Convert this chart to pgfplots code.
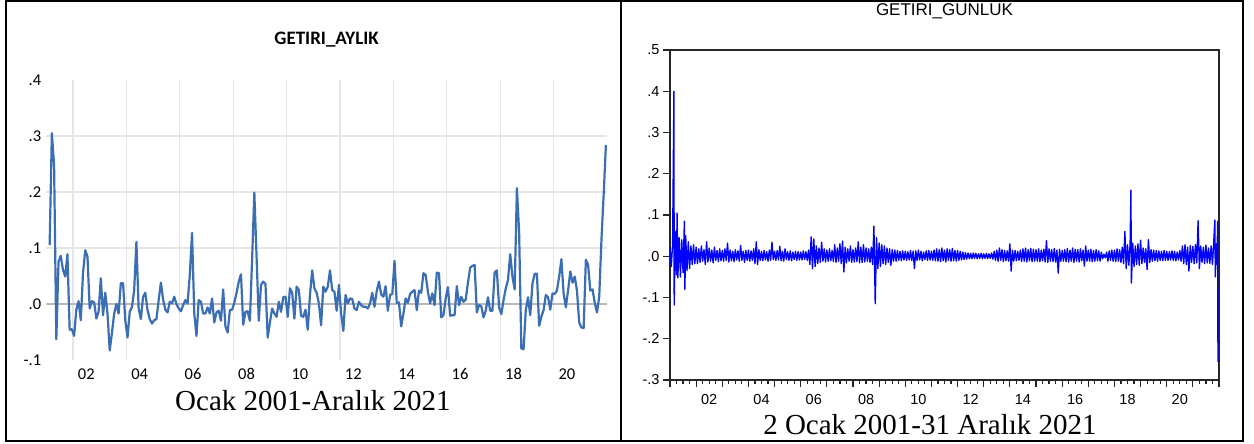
\documentclass[border=0pt]{standalone}
\usepackage{fontspec}
\setmainfont{Liberation Serif}
\newfontfamily\carlito{Carlito}
\newfontfamily\arial{Liberation Sans}
\usepackage{pgfplots}
\pgfplotsset{compat=1.18}
\definecolor{aylik}{HTML}{3C6EB4}

\begin{document}
\begin{tikzpicture}
\path[use as bounding box] (0pt,0pt) rectangle (1254pt,444pt);
\draw[line width=2pt] (5.5pt,2.5pt) rectangle (1242.5pt,443pt);
\draw[line width=2pt] (621.3pt,2.5pt) -- (621.3pt,443pt);

% left: monthly returns (x = month index, first point Feb 2001)
\begin{axis}[
  at={(46.3pt,84pt)}, anchor=south west,
  width=560.7pt, height=280pt, scale only axis,
  xmin=-1.5, xmax=250.5, ymin=-0.1, ymax=0.4,
  axis line style={draw=none},
  major tick length=0pt,
  xtick={10.5,34.5,58.5,82.5,106.5,130.5,154.5,178.5,202.5,226.5},
  xticklabels={02,04,06,08,10,12,14,16,18,20},
  ytick={-0.1,0,0.1,0.2,0.3,0.4},
  yticklabels={-.1,.0,.1,.2,.3,.4},
  x tick label style={font=\carlito\fontsize{16.5}{18}\selectfont, xshift=13.3pt, yshift=-5pt},
  y tick label style={font=\carlito\fontsize{16.5}{18}\selectfont, xshift=-1.5pt},
  xmajorgrids=true,
  major grid style={draw=gray!20, line width=1.3pt},
  extra y ticks={0.1,0.2,0.3},
  extra y tick labels={},
  extra y tick style={grid=major},
]
\draw[gray!55, line width=1.5pt] (axis cs:-1.5,0) -- (axis cs:250.5,0);
\addplot[aylik, line width=2.2pt, line join=round] coordinates {
(0,0.105)(1,0.305)(2,0.248)(3,-0.063)(4,0.076)(5,0.086)(6,0.061)(7,0.049)(8,0.089)(9,-0.046)
(10,-0.045)(11,-0.057)(12,-0.010)(13,0.005)(14,-0.029)(15,0.055)(16,0.096)(17,0.085)(18,-0.008)(19,0.005)
(20,0.003)(21,-0.026)(22,-0.014)(23,0.046)(24,-0.020)(25,0.020)(26,-0.017)(27,-0.083)(28,-0.052)(29,-0.017)
(30,0.000)(31,-0.017)(32,0.037)(33,0.037)(34,-0.029)(35,-0.060)(36,-0.014)(37,-0.005)(38,0.025)(39,0.111)
(40,-0.008)(41,-0.027)(42,0.013)(43,0.020)(44,-0.011)(45,-0.027)(46,-0.035)(47,-0.029)(48,-0.027)(49,0.007)
(50,0.038)(51,0.008)(52,-0.010)(53,-0.015)(54,0.004)(55,0.001)(56,0.013)(57,0.000)(58,-0.008)(59,-0.013)
(60,-0.002)(61,0.007)
(62,0.001)(63,0.052)(64,0.127)(65,-0.017)(66,-0.057)(67,0.007)(68,0.004)(69,-0.017)(70,-0.017)(71,-0.006)
(72,-0.017)(73,0.010)(74,-0.033)(75,-0.015)(76,-0.012)(77,-0.030)(78,0.026)(79,-0.040)(80,-0.051)(81,-0.011)
(82,-0.010)(83,0.002)(84,0.020)(85,0.040)(86,0.053)(87,-0.037)(88,-0.014)(89,-0.013)(90,-0.030)(91,0.080)
(92,0.199)(93,0.085)(94,-0.030)(95,0.034)(96,0.040)(97,0.036)(98,-0.060)(99,-0.033)(100,-0.008)(101,-0.017)
(102,-0.023)(103,0.004)(104,-0.014)(105,0.012)(106,0.013)(107,-0.023)(108,0.028)(109,0.020)(110,-0.026)(111,0.031)
(112,0.025)(113,-0.021)(114,-0.023)(115,-0.010)(116,-0.046)(117,0.016)(118,0.060)(119,0.028)(120,0.020)(121,0.001)
(122,-0.038)(123,0.031)(124,0.022)
(125,0.031)(126,0.060)(127,0.025)(128,0.022)(129,-0.012)(130,0.034)(131,-0.017)(132,-0.048)(133,0.016)(134,0.001)
(135,0.010)(136,0.009)(137,-0.008)(138,-0.011)(139,0.004)(140,-0.002)(141,-0.005)(142,-0.005)(143,-0.008)(144,0.001)
(145,0.020)(146,-0.005)(147,0.023)(148,0.040)(149,0.017)(150,0.013)(151,0.032)(152,-0.012)(153,0.016)(154,0.018)
(155,0.077)(156,0.002)(157,0.003)(158,-0.040)(159,-0.017)(160,0.010)(161,0.002)(162,0.018)(163,0.022)(164,0.025)
(165,-0.011)(166,0.024)(167,0.020)(168,0.055)(169,0.052)(170,0.022)(171,0.001)(172,0.019)(173,-0.002)(174,0.056)
(175,0.055)(176,-0.024)(177,-0.020)(178,0.010)(179,0.030)(180,-0.021)(181,-0.020)(182,-0.020)(183,0.032)(184,-0.002)
(185,0.013)(186,0.004)(187,0.008)
(188,0.038)(189,0.065)(190,0.068)(191,0.070)(192,-0.015)(193,-0.002)(194,-0.004)(195,-0.024)(196,-0.012)(197,0.012)
(198,-0.012)(199,-0.012)(200,0.056)(201,0.060)(202,-0.006)(203,-0.018)(204,0.007)(205,0.028)(206,0.043)(207,0.089)
(208,0.049)(209,0.026)(210,0.207)(211,0.129)(212,-0.079)(213,-0.081)(214,-0.011)(215,0.012)(216,-0.020)(217,0.037)
(218,0.054)(219,0.054)(220,-0.039)(221,-0.023)(222,-0.011)(223,0.016)(224,0.012)(225,-0.010)(226,0.019)(227,0.018)
(228,0.024)(229,0.049)(230,0.080)(231,0.019)(232,-0.006)(233,0.024)(234,0.058)(235,0.038)(236,0.049)(237,0.024)
(238,-0.033)(239,-0.042)(240,-0.043)(241,0.079)(242,0.070)(243,0.024)(244,0.026)(245,0.002)(246,-0.015)(247,0.013)
(248,0.114)(249,0.195)(250,0.284)
};
\end{axis}

% right: daily returns
\begin{axis}[
  at={(670pt,64pt)}, anchor=south west,
  width=549pt, height=330pt, scale only axis,
  xmin=2001, xmax=2022, ymin=-0.3, ymax=0.5,
  axis line style={line width=1.5pt, black!85},
  tick style={line width=1.2pt, black!85},
  tick align=outside,
  xtick pos=left, ytick pos=left,
  major tick length=7pt, minor tick length=4pt,
  xtick={2001,2002,2003,2004,2005,2006,2007,2008,2009,2010,2011,2012,2013,2014,2015,2016,2017,2018,2019,2020,2021,2022},
  minor x tick num=3,
  xticklabels={,02,,04,,06,,08,,10,,12,,14,,16,,18,,20,,},
  ytick={-0.3,-0.2,-0.1,0,0.1,0.2,0.3,0.4,0.5},
  yticklabels={-.3,-.2,-.1,.0,.1,.2,.3,.4,.5},
  x tick label style={font=\arial\fontsize{14.5}{16}\selectfont, xshift=13.07pt, yshift=-4pt},
  y tick label style={font=\arial\fontsize{14.5}{16}\selectfont},
]
\addplot[blue, line width=1.35pt, line join=round] coordinates {
(2001.00,0.020)(2001.05,-0.025)(2001.10,0.030)(2001.15,0.400)(2001.16,-0.118)(2001.20,0.060)(2001.25,-0.045)(2001.27,0.105)(2001.30,-0.052)(2001.35,0.045)(2001.40,-0.050)(2001.45,0.040)(2001.50,-0.040)(2001.55,0.085)(2001.57,-0.080)(2001.60,0.050)(2001.65,-0.035)(2001.70,0.035)(2001.75,-0.030)(2001.80,0.025)(2001.85,-0.020)(2001.90,0.028)(2001.95,-0.018)
(2002.00,0.022)(2002.05,-0.018)(2002.10,0.018)(2002.15,-0.015)(2002.20,0.025)(2002.25,-0.012)(2002.30,0.016)(2002.35,-0.020)(2002.40,0.035)(2002.45,-0.014)(2002.50,0.020)(2002.55,-0.012)(2002.60,0.015)(2002.65,-0.016)(2002.70,0.022)(2002.75,-0.010)(2002.80,0.014)(2002.85,-0.013)(2002.90,0.018)(2002.95,-0.011)
(2003.00,0.014)(2003.05,-0.012)(2003.10,0.018)(2003.15,-0.010)(2003.20,0.032)(2003.25,-0.014)(2003.30,0.015)(2003.35,-0.011)(2003.40,0.012)(2003.45,-0.013)(2003.50,0.016)(2003.55,-0.009)(2003.60,0.013)(2003.65,-0.012)(2003.70,0.026)(2003.75,-0.010)(2003.80,0.012)(2003.85,-0.015)(2003.90,0.014)(2003.95,-0.010)
(2004.00,0.015)(2004.05,-0.012)(2004.10,0.013)(2004.15,-0.010)(2004.20,0.018)(2004.25,-0.018)(2004.30,0.035)(2004.35,-0.020)(2004.40,0.016)(2004.45,-0.010)(2004.50,0.012)(2004.55,-0.011)(2004.60,0.014)(2004.65,-0.009)(2004.70,0.011)(2004.75,-0.012)(2004.80,0.015)(2004.85,-0.010)(2004.90,0.034)(2004.95,-0.008)
(2005.00,0.012)(2005.05,-0.010)(2005.10,0.014)(2005.15,-0.009)(2005.20,0.024)(2005.25,-0.011)(2005.30,0.012)(2005.35,-0.012)(2005.40,0.018)(2005.45,-0.008)(2005.50,0.011)(2005.55,-0.010)(2005.60,0.013)(2005.65,-0.011)(2005.70,0.010)(2005.75,-0.008)(2005.80,0.012)(2005.85,-0.010)(2005.90,0.011)(2005.95,-0.009)
(2006.00,0.010)(2006.05,-0.009)(2006.10,0.013)(2006.15,-0.008)(2006.20,0.011)(2006.25,-0.010)(2006.30,0.015)(2006.35,-0.020)(2006.40,0.047)(2006.45,-0.030)(2006.50,0.042)(2006.55,-0.025)(2006.60,0.025)(2006.65,-0.018)(2006.70,0.020)(2006.75,-0.015)(2006.80,0.034)(2006.85,-0.012)(2006.90,0.018)(2006.95,-0.014)
(2007.00,0.015)(2007.05,-0.012)(2007.10,0.018)(2007.15,-0.011)(2007.20,0.014)(2007.25,-0.013)(2007.30,0.028)(2007.35,-0.015)(2007.40,0.020)(2007.45,-0.012)(2007.50,0.030)(2007.55,-0.018)(2007.60,0.037)(2007.65,-0.038)(2007.70,0.022)(2007.75,-0.016)(2007.80,0.018)(2007.85,-0.012)(2007.90,0.025)(2007.95,-0.015)
(2008.00,0.016)(2008.05,-0.014)(2008.10,0.020)(2008.15,-0.013)(2008.20,0.035)(2008.25,-0.016)(2008.30,0.022)(2008.35,-0.015)(2008.40,0.028)(2008.45,-0.014)(2008.50,0.020)(2008.55,-0.012)(2008.60,0.018)(2008.65,-0.015)(2008.70,0.022)(2008.75,-0.020)(2008.80,0.073)(2008.85,-0.115)(2008.90,0.045)(2008.95,-0.030)
(2009.00,0.032)(2009.05,-0.025)(2009.10,0.028)(2009.15,-0.018)(2009.20,0.025)(2009.25,-0.020)(2009.30,0.020)(2009.35,-0.015)(2009.40,0.018)(2009.45,-0.022)(2009.50,0.016)(2009.55,-0.012)(2009.60,0.015)(2009.65,-0.012)(2009.70,0.014)(2009.75,-0.010)(2009.80,0.012)(2009.85,-0.011)(2009.90,0.013)(2009.95,-0.009)
(2010.00,0.012)(2010.05,-0.010)(2010.10,0.011)(2010.15,-0.009)(2010.20,0.014)(2010.25,-0.010)(2010.30,0.012)(2010.35,-0.030)(2010.40,0.013)(2010.45,-0.010)(2010.50,0.015)(2010.55,-0.009)(2010.60,0.012)(2010.65,-0.011)(2010.70,0.010)(2010.75,-0.008)(2010.80,0.013)(2010.85,-0.010)(2010.90,0.014)(2010.95,-0.009)
(2011.00,0.012)(2011.05,-0.010)(2011.10,0.015)(2011.15,-0.011)(2011.20,0.018)(2011.25,-0.012)(2011.30,0.016)(2011.35,-0.013)(2011.40,0.020)(2011.45,-0.011)(2011.50,0.015)(2011.55,-0.014)(2011.60,0.018)(2011.65,-0.010)(2011.70,0.016)(2011.75,-0.012)(2011.80,0.019)(2011.85,-0.011)(2011.90,0.014)(2011.95,-0.012)
(2012.00,0.014)(2012.05,-0.010)(2012.10,0.012)(2012.15,-0.009)(2012.20,0.010)(2012.25,-0.008)(2012.30,0.009)(2012.35,-0.007)(2012.40,0.008)(2012.45,-0.006)(2012.50,0.007)(2012.55,-0.006)(2012.60,0.008)(2012.65,-0.005)(2012.70,0.007)(2012.75,-0.006)(2012.80,0.006)(2012.85,-0.005)(2012.90,0.007)(2012.95,-0.006)
(2013.00,0.006)(2013.05,-0.005)(2013.10,0.007)(2013.15,-0.006)(2013.20,0.006)(2013.25,-0.005)(2013.30,0.008)(2013.35,-0.007)(2013.40,0.012)(2013.45,-0.010)(2013.50,0.015)(2013.55,-0.012)(2013.60,0.020)(2013.65,-0.010)(2013.70,0.016)(2013.75,-0.013)(2013.80,0.014)(2013.85,-0.011)(2013.90,0.013)(2013.95,-0.012)
(2014.00,0.030)(2014.05,-0.036)(2014.10,0.015)(2014.15,-0.012)(2014.20,0.014)(2014.25,-0.011)(2014.30,0.012)(2014.35,-0.010)(2014.40,0.015)(2014.45,-0.013)(2014.50,0.018)(2014.55,-0.012)(2014.60,0.020)(2014.65,-0.014)(2014.70,0.016)(2014.75,-0.011)(2014.80,0.019)(2014.85,-0.013)(2014.90,0.017)(2014.95,-0.012)
(2015.00,0.016)(2015.05,-0.012)(2015.10,0.018)(2015.15,-0.013)(2015.20,0.015)(2015.25,-0.011)(2015.30,0.017)(2015.35,-0.014)(2015.40,0.038)(2015.45,-0.015)(2015.50,0.018)(2015.55,-0.012)(2015.60,0.016)(2015.65,-0.013)(2015.70,0.019)(2015.75,-0.014)(2015.80,0.015)(2015.85,-0.041)(2015.90,0.017)(2015.95,-0.012)
(2016.00,0.014)(2016.05,-0.012)(2016.10,0.016)(2016.15,-0.013)(2016.20,0.019)(2016.25,-0.014)(2016.30,0.015)(2016.35,-0.012)(2016.40,0.020)(2016.45,-0.015)(2016.50,0.017)(2016.55,-0.012)(2016.60,0.016)(2016.65,-0.014)(2016.70,0.018)(2016.75,-0.011)(2016.80,0.015)(2016.85,-0.024)(2016.90,0.025)(2016.95,-0.012)
(2017.00,0.015)(2017.05,-0.012)(2017.10,0.017)(2017.15,-0.013)(2017.20,0.014)(2017.25,-0.012)(2017.30,0.016)(2017.35,-0.011)(2017.40,0.013)(2017.45,-0.012)(2017.50,0.010)(2017.55,-0.006)(2017.60,0.005)(2017.65,-0.004)(2017.70,0.010)(2017.75,-0.012)(2017.80,0.013)(2017.85,-0.010)(2017.90,0.015)(2017.95,-0.012)
(2018.00,0.015)(2018.05,-0.013)(2018.10,0.018)(2018.15,-0.012)(2018.20,0.016)(2018.25,-0.015)(2018.30,0.022)(2018.35,-0.018)(2018.40,0.060)(2018.45,-0.030)(2018.50,0.028)(2018.55,-0.022)(2018.60,0.030)(2018.63,0.160)(2018.65,-0.065)(2018.70,0.032)(2018.75,-0.025)(2018.80,0.025)(2018.85,-0.020)(2018.90,0.030)(2018.95,-0.022)
(2019.00,0.039)(2019.05,-0.018)(2019.10,0.020)(2019.15,-0.015)(2019.20,0.018)(2019.25,-0.032)(2019.30,0.040)(2019.35,-0.015)(2019.40,0.016)(2019.45,-0.012)(2019.50,0.015)(2019.55,-0.011)(2019.60,0.014)(2019.65,-0.012)(2019.70,0.013)(2019.75,-0.010)(2019.80,0.012)(2019.85,-0.011)(2019.90,0.014)(2019.95,-0.010)
(2020.00,0.012)(2020.05,-0.010)(2020.10,0.011)(2020.15,-0.009)(2020.20,0.013)(2020.25,-0.010)(2020.30,0.012)(2020.35,-0.011)(2020.40,0.010)(2020.45,-0.009)(2020.50,0.014)(2020.55,-0.012)(2020.60,0.025)(2020.65,-0.018)(2020.70,0.028)(2020.75,-0.020)(2020.80,0.022)(2020.85,-0.036)(2020.90,0.026)(2020.95,-0.015)
(2021.00,0.024)(2021.05,-0.018)(2021.10,0.028)(2021.15,-0.016)(2021.20,0.086)(2021.25,-0.030)(2021.30,0.025)(2021.35,-0.015)(2021.40,0.022)(2021.45,-0.018)(2021.50,0.027)(2021.55,-0.016)(2021.60,0.020)(2021.65,-0.017)(2021.70,0.025)(2021.75,-0.020)(2021.80,0.035)(2021.84,0.088)(2021.86,-0.050)(2021.90,0.030)(2021.92,-0.020)(2021.95,0.085)(2021.96,-0.256)
};
\end{axis}

\node[font=\carlito\bfseries\fontsize{19}{22}\selectfont] at (326.6pt,404.5pt) {GETIRI\_AYLIK};
\node[font=\arial\fontsize{17}{20}\selectfont] at (944.5pt,433pt) {GETIRI\_GUNLUK};
\node[font=\fontsize{29}{34}\selectfont, anchor=base] at (312.9pt,33pt) {Ocak 2001-Aralık 2021};
\node[font=\fontsize{29}{34}\selectfont, anchor=base] at (930pt,9pt) {2 Ocak 2001-31 Aralık 2021};
\end{tikzpicture}
\end{document}
